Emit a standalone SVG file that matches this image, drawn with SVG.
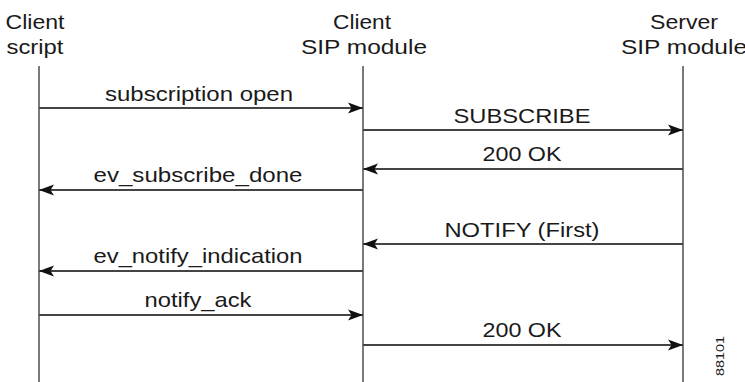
<svg xmlns="http://www.w3.org/2000/svg" width="745" height="382" viewBox="0 0 745 382">
<style>
  text { font-family: "Liberation Sans", Arial, sans-serif; fill: #1a1a1a; }
  .hdr { font-size: 21px; text-anchor: middle; }
  .lbl { font-size: 21px; text-anchor: middle; }
  .life { stroke: #222; stroke-width: 1.2; fill: none; }
  .msg { stroke: #444; stroke-width: 2.2; fill: none; marker-end: url(#ah); }
  .tag { font-size: 11px; text-anchor: middle; }
</style>
<defs>
  <marker id="ah" markerUnits="userSpaceOnUse" markerWidth="16" markerHeight="12" refX="15" refY="6" orient="auto">
    <path d="M0,0.5 L15,6 L0,11.5 L3.5,6 Z" fill="#111"/>
  </marker>
</defs>
<rect width="745" height="382" fill="#fff"/>
<g id="client-script">
  <text class="hdr" x="35" y="29" textLength="59" lengthAdjust="spacingAndGlyphs">Client</text>
  <text class="hdr" x="35" y="54" textLength="57" lengthAdjust="spacingAndGlyphs">script</text>
  <line class="life" x1="39" y1="66" x2="39" y2="382"/>
</g>
<g id="client-sip">
  <text class="hdr" x="362" y="29" textLength="58" lengthAdjust="spacingAndGlyphs">Client</text>
  <text class="hdr" x="364" y="54" textLength="126" lengthAdjust="spacingAndGlyphs">SIP module</text>
  <line class="life" x1="363" y1="66" x2="363" y2="382"/>
</g>
<g id="server-sip">
  <text class="hdr" x="684" y="29" textLength="68" lengthAdjust="spacingAndGlyphs">Server</text>
  <text class="hdr" x="684" y="54" textLength="126" lengthAdjust="spacingAndGlyphs">SIP module</text>
  <line class="life" x1="683" y1="66" x2="683" y2="382"/>
</g>
<g id="connectors">
  <line class="msg" x1="39" y1="108" x2="363" y2="108"/>
  <text class="lbl" x="199" y="101" textLength="188" lengthAdjust="spacingAndGlyphs">subscription open</text>
  <line class="msg" x1="363" y1="130" x2="683" y2="130"/>
  <text class="lbl" x="522" y="123" textLength="137" lengthAdjust="spacingAndGlyphs">SUBSCRIBE</text>
  <line class="msg" x1="683" y1="169" x2="363" y2="169"/>
  <text class="lbl" x="522" y="161" textLength="79" lengthAdjust="spacingAndGlyphs">200 OK</text>
  <line class="msg" x1="363" y1="190" x2="39" y2="190"/>
  <text class="lbl" x="198" y="182" textLength="209" lengthAdjust="spacingAndGlyphs">ev_subscribe_done</text>
  <line class="msg" x1="683" y1="244" x2="363" y2="244"/>
  <text class="lbl" x="522" y="237" textLength="155" lengthAdjust="spacingAndGlyphs">NOTIFY (First)</text>
  <line class="msg" x1="363" y1="271" x2="39" y2="271"/>
  <text class="lbl" x="198" y="263" textLength="209" lengthAdjust="spacingAndGlyphs">ev_notify_indication</text>
  <line class="msg" x1="39" y1="315" x2="363" y2="315"/>
  <text class="lbl" x="198" y="307" textLength="107" lengthAdjust="spacingAndGlyphs">notify_ack</text>
  <line class="msg" x1="363" y1="345" x2="683" y2="345"/>
  <text class="lbl" x="522" y="337" textLength="79" lengthAdjust="spacingAndGlyphs">200 OK</text>
</g>
<text class="tag" transform="translate(724,356) rotate(-90)" textLength="40" lengthAdjust="spacingAndGlyphs">88101</text>
</svg>
